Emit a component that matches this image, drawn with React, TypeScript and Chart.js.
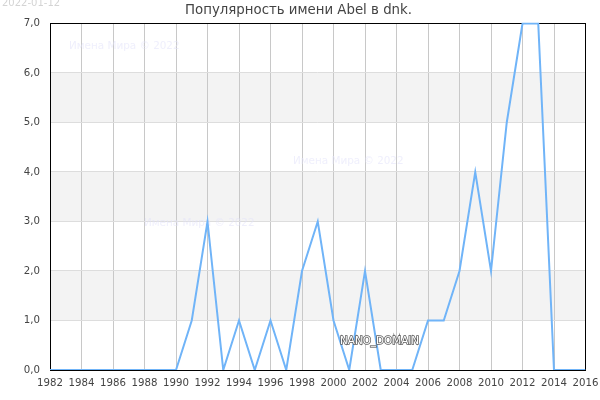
import React, { useEffect, useRef } from "react";
import { Chart, registerables } from "chart.js";

Chart.register(...registerables);

const years = [1982,1983,1984,1985,1986,1987,1988,1989,1990,1991,1992,1993,1994,1995,1996,1997,1998,1999,2000,2001,2002,2003,2004,2005,2006,2007,2008,2009,2010,2011,2012,2013,2014,2015,2016];
const popularity = [0,0,0,0,0,0,0,0,0,1,3,0,1,0,1,0,2,3,1,0,2,0,0,0,1,1,2,4,2,5,7,7,0,0,0];
const bands = [[1,2],[3,4],[5,6]];
const titleText = "Популярность имени Abel в dnk.";
const watermarkText = "Имена Мира © 2022";
const dateText = "2022-01-12";
const domainText = "NANO_DOMAIN";
const FONT = "'DejaVu Sans'";

const decor = {
  id: "decor",
  beforeDatasetsDraw(c: any) {
    const { ctx, chartArea: a } = c;
    ctx.save();
    ctx.font = `10.4px ${FONT}`;
    ctx.textBaseline = "middle";
    ctx.textAlign = "left";
    ctx.fillStyle = "rgba(225,225,250,0.55)";
    ctx.fillText(watermarkText, 69, 46);
    ctx.fillText(watermarkText, 293, 161);
    ctx.fillText(watermarkText, 144, 223);
    ctx.strokeStyle = "#000";
    ctx.lineWidth = 1;
    const l = Math.floor(a.left) + 0.5;
    const r = Math.floor(a.right) + 0.5;
    const t = Math.floor(a.top) + 0.5;
    const b = Math.floor(a.bottom) + 0.5;
    ctx.strokeRect(l, t, r - l, b - t);
    ctx.restore();
  },
  beforeDraw(c: any) {
    const { ctx, chartArea: a, scales } = c;
    ctx.save();
    ctx.fillStyle = "#f3f3f3";
    for (const [lo, hi] of bands) {
      const t = scales.y.getPixelForValue(hi);
      const b = scales.y.getPixelForValue(lo);
      ctx.fillRect(a.left, t, a.right - a.left, b - t);
    }
    ctx.restore();
  },
  afterDraw(c: any) {
    const { ctx } = c;
    ctx.save();
    ctx.font = `10px ${FONT}`;
    ctx.textBaseline = "middle";
    ctx.textAlign = "left";
    ctx.fillStyle = "#d4d4d4";
    ctx.fillText(dateText, 2, 3);
    ctx.font = `10.4px ${FONT}`;
    ctx.lineWidth = 1.5;
    ctx.strokeStyle = "#5c5c5c";
    ctx.strokeText(domainText, 340, 341);
    ctx.fillStyle = "#fff";
    ctx.fillText(domainText, 340, 341);
    ctx.restore();
  },
};

export default function App() {
  const ref = useRef<HTMLCanvasElement>(null);
  useEffect(() => {
    document.body.style.margin = "0";
    const chart = new Chart(ref.current!, {
      type: "line",
      data: {
        datasets: [{
          data: years.map((y, i) => ({ x: y, y: popularity[i] })),
          borderColor: "#70b4f8",
          borderWidth: 2,
          pointRadius: 0,
          tension: 0,
          clip: { left: 0, right: 0, top: 1, bottom: 0 },
        }],
      },
      plugins: [decor],
      options: {
        animation: false,
        responsive: false,
        devicePixelRatio: 1,
        layout: { padding: { left: 0, right: 3, top: 0, bottom: 0 } },
        plugins: {
          legend: { display: false },
          tooltip: { enabled: false },
          title: {
            display: true,
            text: titleText,
            color: "#444",
            font: { family: FONT, size: 13.33, weight: "normal" },
            padding: { top: 3, bottom: 4.5 },
          },
        },
        scales: {
          x: {
            type: "linear",
            min: 1982,
            max: 2016,
            afterFit: (s: any) => { s.height = 30; s.paddingRight = 14.5; s.paddingLeft = 0; },
            grid: { color: "#c8c8c8", drawTicks: false, lineWidth: 1 },
            border: { display: false },
            ticks: {
              stepSize: 2,
              color: "#444",
              maxRotation: 0,
              autoSkip: false,
              padding: 7,
              font: { family: FONT, size: 10.2 },
              callback: (v: any) => String(v),
            },
          },
          y: {
            min: 0,
            max: 7,
            afterFit: (s: any) => { s.width = 50; s.paddingTop = 0; s.paddingBottom = 0; },
            grid: { color: "#dddddd", drawTicks: false, lineWidth: 1 },
            border: { display: false },
            ticks: {
              stepSize: 1,
              color: "#444",
              padding: 10,
              font: { family: FONT, size: 10.2 },
              callback: (v: any) => Number(v).toFixed(1).replace(".", ","),
            },
          },
        },
      } as any,
    });
    return () => chart.destroy();
  }, []);
  return <canvas ref={ref} width={600} height={400} style={{ display: "block" }} />;
}
